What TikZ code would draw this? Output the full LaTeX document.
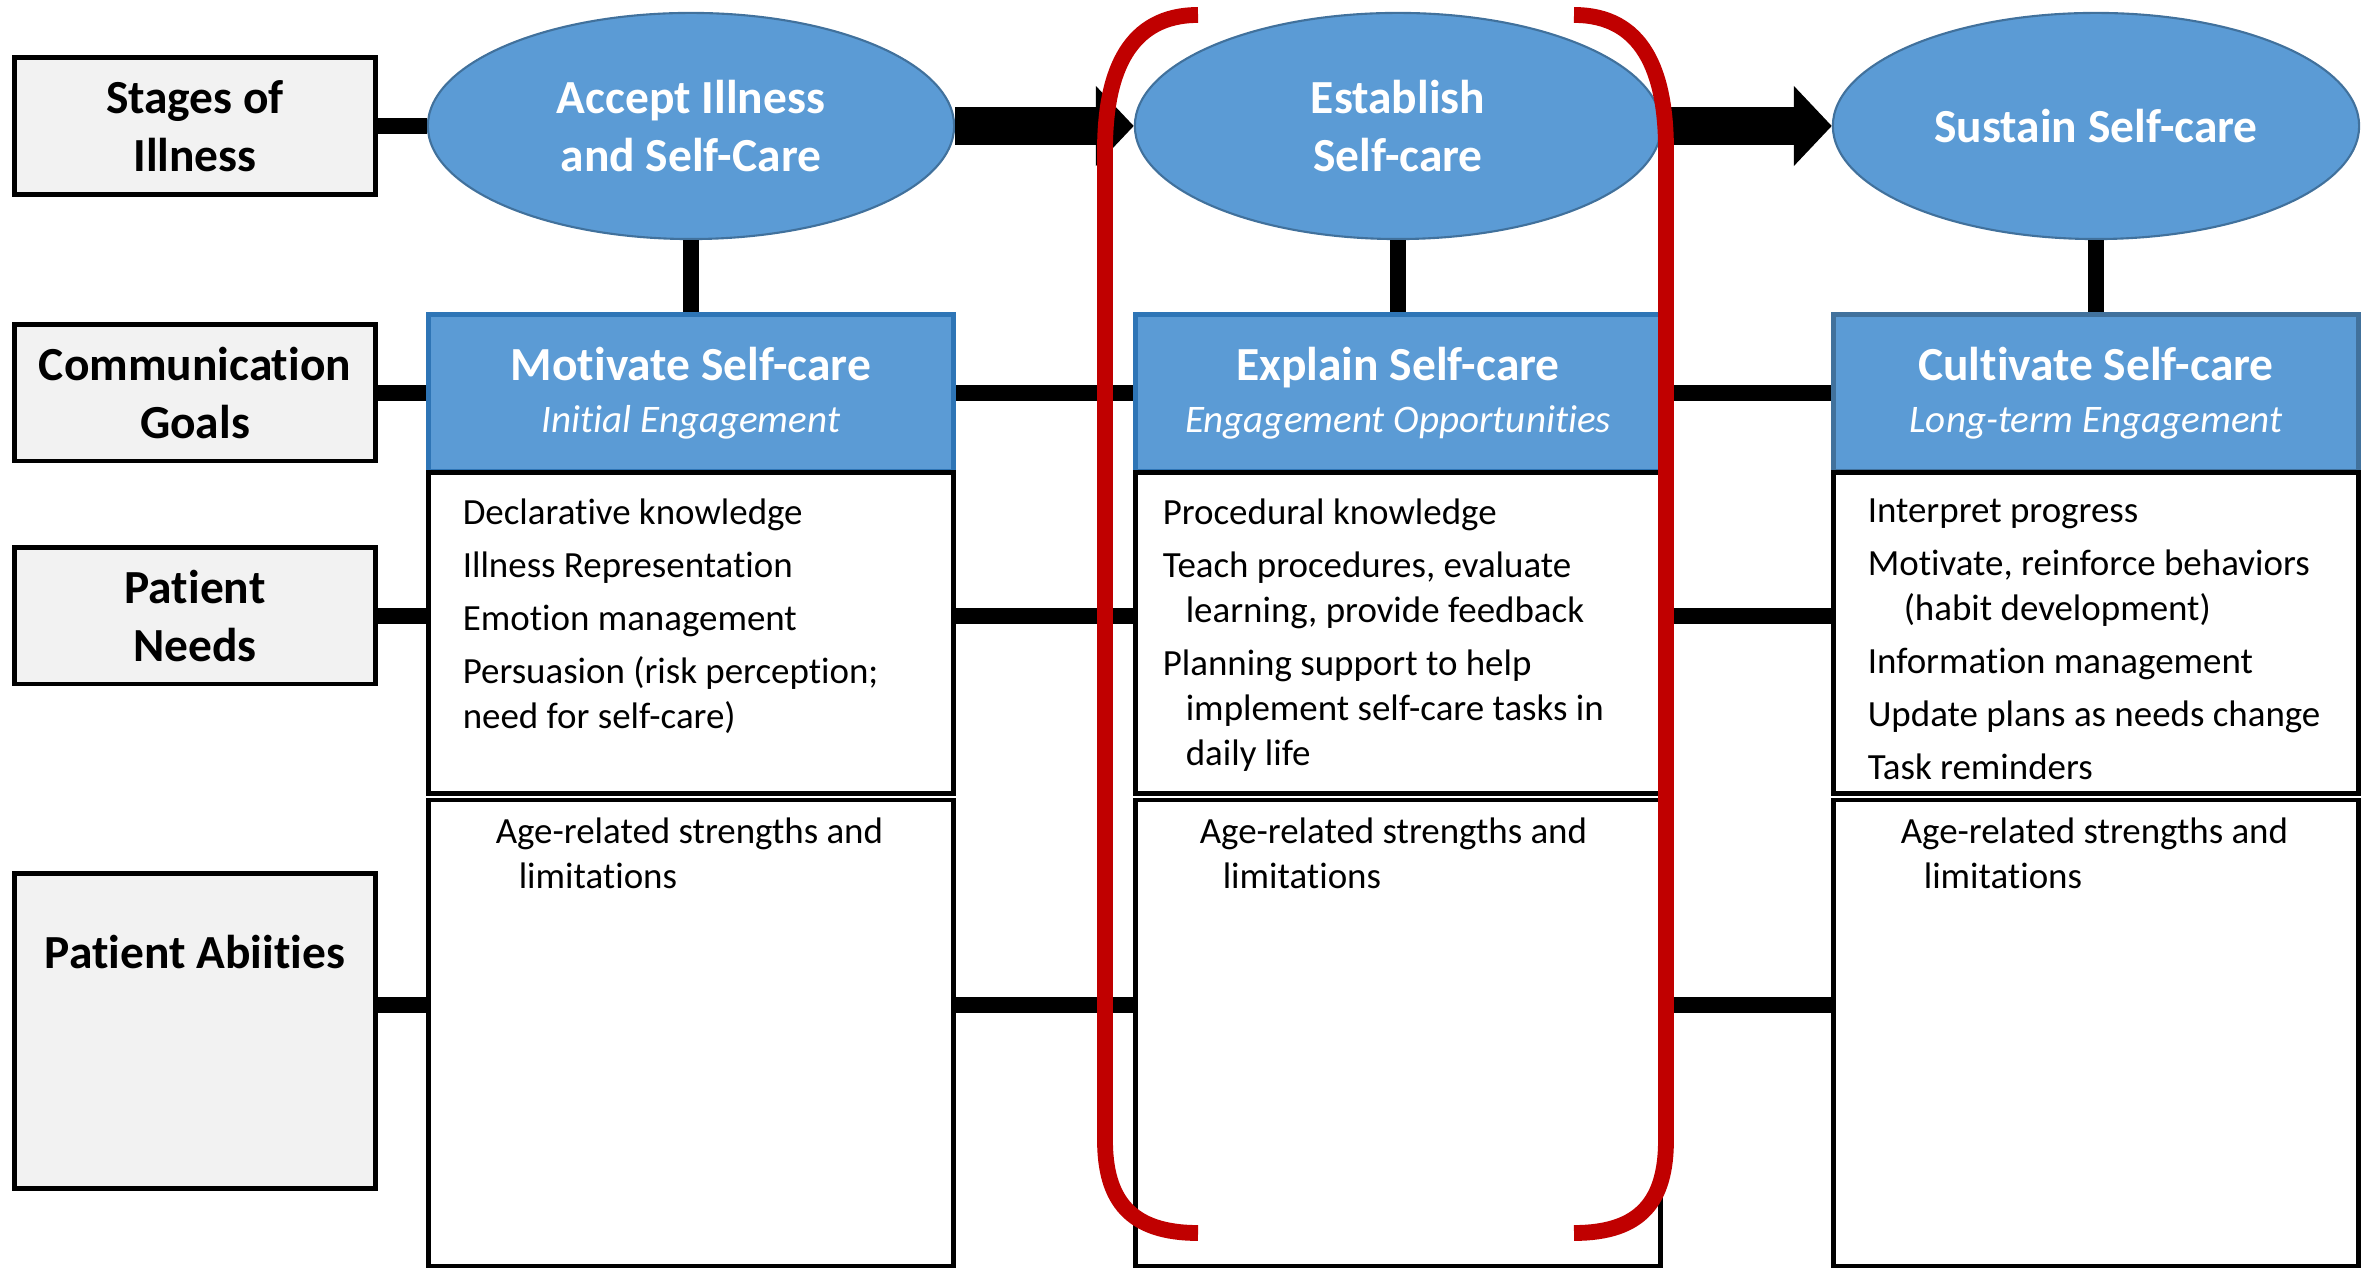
\documentclass[tikz,border=0pt]{standalone}
\usepackage{fontspec}
\setmainfont{Carlito}[Ligatures=NoCommon]
\usetikzlibrary{shapes.geometric,arrows.meta,calc,positioning}

\definecolor{cor_blue}{HTML}{5B9BD5}
\definecolor{cor_blueline}{HTML}{41719C}
\definecolor{cor_blueedge}{HTML}{2E75B6}
\definecolor{cor_red}{HTML}{C00000}
\definecolor{cor_gray}{HTML}{F2F2F2}

\begin{document}
\begin{tikzpicture}[x=0.01cm, y=-0.01cm]
        \tikzset{
            lab/.style={
                draw,
                line width=1.4pt,
                fill=cor_gray,
                minimum width=3.6cm,
                minimum height=#1,
                inner sep=0pt,
                align=center,
                font=\fontsize{13.5}{16.5}\selectfont\bfseries
            },
            stage/.style={
                ellipse,
                draw=cor_blueline,
                line width=0.6pt,
                fill=cor_blue,
                minimum width=5.26cm,
                minimum height=2.26cm,
                inner sep=0pt,
                align=center,
                text=white,
                font=\fontsize{13.5}{16.5}\selectfont\bfseries
            },
            goal/.style={
                draw=#1,
                line width=1.4pt,
                fill=cor_blue,
                minimum width=5.25cm,
                minimum height=1.56cm,
                inner sep=0pt,
                align=center,
                text=white,
                font=\fontsize{13.5}{14.8}\selectfont\bfseries
            },
            whitebox/.style={
                draw,
                line width=1.3pt,
                fill=white,
                minimum width=5.25cm,
                minimum height=#1,
                inner sep=0pt
            },
            txt/.style={
                anchor=north west,
                align=left,
                inner sep=0pt,
                font=\fontsize{10.5}{12.8}\selectfont
            },
            link/.style={line width=4.3pt},
            stagearrow/.style={
                line width=0.38cm,
                -{Triangle[length=0.38cm, width=0.78cm]}
            },
            bracket/.style={draw=cor_red, line width=4.5pt}
        }
        \useasboundingbox (0,0) rectangle (2372,1268);

        % left column of labels
        \node[lab=1.37cm] (stagelab) at (195,126) {Stages of\\Illness};
        \node[lab=1.36cm] (comlab) at (195,393) {Communication\\Goals};
        \node[lab=1.36cm] (needlab) at (195,616) {Patient\\Needs};
        \node[lab=3.14cm, label={[font=\fontsize{13.5}{16.5}\selectfont\bfseries, anchor=center, yshift=-0.81cm]north:Patient Abiities}] (ablab) at (195,1031) {};

        % stages
        \node[stage] (acc) at (691,126) {Accept Illness\\and Self-Care};
        \node[stage] (est) at (1398,126) {Establish\\Self-care};
        \node[stage] (sus) at (2096,126) {Sustain Self-care};

        % goals
        \node[goal=cor_blueedge] (mot) at (691,393) {Motivate Self-care\\{\fontsize{11.1}{13}\selectfont\mdseries\itshape Initial Engagement}};
        \node[goal=cor_blueedge] (expl) at (1398,393) {Explain Self-care\\{\fontsize{11.1}{13}\selectfont\mdseries\itshape Engagement Opportunities}};
        \node[goal=cor_blueline] (cult) at (2096,393) {Cultivate Self-care\\{\fontsize{11.1}{13}\selectfont\mdseries\itshape Long-term Engagement}};

        % needs and abilities
        \node[whitebox=3.21cm] (need1) at (691,633) {};
        \node[whitebox=3.21cm] (need2) at (1398,633) {};
        \node[whitebox=3.21cm] (need3) at (2096,633) {};
        \node[whitebox=4.66cm] (ab1) at (691,1033) {};
        \node[whitebox=4.66cm] (ab2) at (1398,1033) {};
        \node[whitebox=4.66cm] (ab3) at (2096,1033) {};

        \node[txt] (needtxt1) at ($(need1.north west)+(36,28)$) {Declarative knowledge\\[2.3pt]
            Illness Representation\\[2.3pt]
            Emotion management\\[2.3pt]
            Persuasion (risk perception;\\
            need for self-care)};
        \node[txt] (needtxt2) at ($(need2.north west)+(29,28)$) {Procedural knowledge\\[2.3pt]
            Teach procedures, evaluate\\
            \hspace*{0.23cm}learning, provide feedback\\[2.3pt]
            Planning support to help\\
            \hspace*{0.23cm}implement self-care tasks in\\
            \hspace*{0.23cm}daily life};
        \node[txt] (needtxt3) at ($(need3.north west)+(36,28)$) {Interpret progress\\[2.3pt]
            Motivate, reinforce behaviors\\
            \hspace*{0.36cm}(habit development)\\[2.3pt]
            Information management\\[2.3pt]
            Update plans as needs change\\[2.3pt]
            Task reminders};

        \node[txt] (abtxt1) at ($(ab1.north west)+(69,20)$) {Age-related strengths and\\\hspace*{0.23cm}limitations};
        \node[txt] (abtxt2) at ($(ab2.north west)+(66,20)$) {Age-related strengths and\\\hspace*{0.23cm}limitations};
        \node[txt] (abtxt3) at ($(ab3.north west)+(69,20)$) {Age-related strengths and\\\hspace*{0.23cm}limitations};

        % connectors
        \draw[link] (stagelab.east) -- (acc.west);
        \draw[stagearrow] (acc.east) -- (est.west);
        \draw[stagearrow] (est.east) -- (sus.west);

        \draw[link] (acc.south) -- (mot.north);
        \draw[link] (est.south) -- (expl.north);
        \draw[link] (sus.south) -- (cult.north);

        \draw[link] (comlab.east) -- (mot.west);
        \draw[link] (mot.east) -- (expl.west);
        \draw[link] (expl.east) -- (cult.west);

        \draw[link] (needlab.east) -- (needlab.east -| need1.west);
        \draw[link] (need1.east |- needlab.east) -- (need2.west |- needlab.east);
        \draw[link] (need2.east |- needlab.east) -- (need3.west |- needlab.east);

        \coordinate (abrow) at ([yshift=0.26cm]ablab.east);
        \draw[link] (abrow) -- (abrow -| ab1.west);
        \draw[link] (ab1.east |- abrow) -- (ab2.west |- abrow);
        \draw[link] (ab2.east |- abrow) -- (ab3.west |- abrow);

        % red brackets
        \draw[bracket] (1198,15) .. controls (1130,15) and (1105,70) .. (1105,150)
            -- (1105,1140) .. controls (1105,1200) and (1130,1233) .. (1198,1233);
        \draw[bracket] (1574,15) .. controls (1642,15) and (1666,70) .. (1666,150)
            -- (1666,1140) .. controls (1666,1200) and (1642,1233) .. (1574,1233);

\end{tikzpicture}
\end{document}
